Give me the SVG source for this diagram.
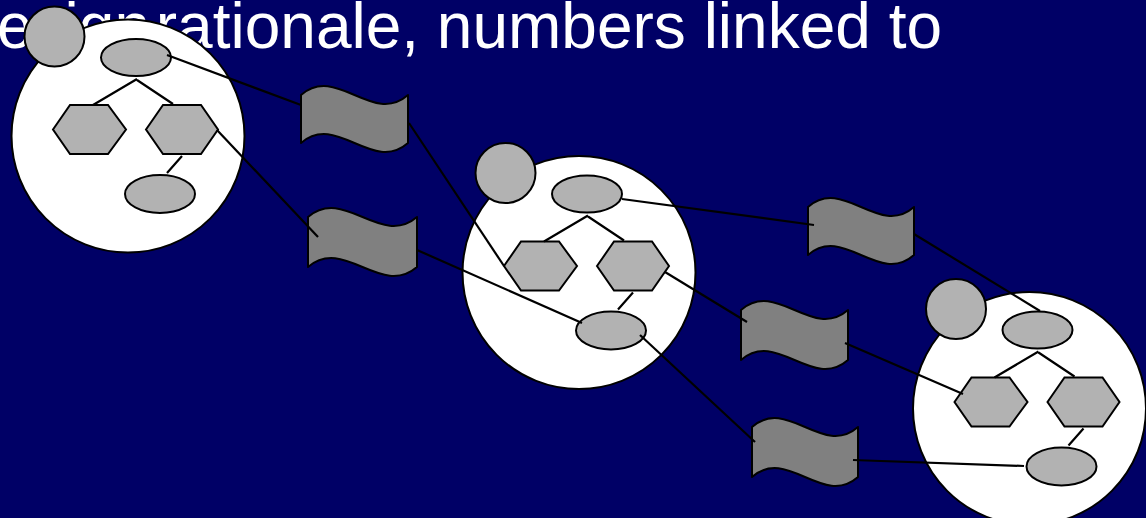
<svg xmlns="http://www.w3.org/2000/svg" width="1146" height="518" viewBox="0 0 1146 518">
<defs>
<style>
.bg{fill:#000066}
.title{font-family:"Liberation Sans",Arial,sans-serif;font-size:64px;fill:#ffffff}
.big{fill:#ffffff;stroke:#000;stroke-width:2}
.g{fill:#b2b2b2;stroke:#000;stroke-width:2}
.ban{fill:#808080;stroke:#000;stroke-width:2;stroke-linejoin:round}
.ln{stroke:#000;stroke-width:2.2;fill:none}
</style>
</defs>
<rect class="bg" x="0" y="0" width="1146" height="518"/>
<text class="title" x="-3" y="47.5">esign<tspan dx="-12"> rationale, numbers linked to</tspan></text>

<g id="cluster1">
<circle class="big" cx="128" cy="136" r="116.5"/>
<circle class="g" cx="54.5" cy="36.5" r="30"/>
<ellipse class="g" cx="136" cy="57.5" rx="35" ry="18.5"/>
<polygon class="g" points="53,129.5 70,105 108,105 126,129.5 108,154 70,154"/>
<polygon class="g" points="146,129.5 163,105 201,105 218,129.5 201,154 163,154"/>
<ellipse class="g" cx="160" cy="194" rx="35" ry="19"/>
<path class="ln" d="M137,79 L93,105 M137,80 L173,104 M182,156 L167,173"/>
</g>

<g id="cluster2" transform="translate(451,136.5)">
<circle class="big" cx="128" cy="136" r="116.5"/>
<circle class="g" cx="54.5" cy="36.5" r="30"/>
<ellipse class="g" cx="136" cy="57.5" rx="35" ry="18.5"/>
<polygon class="g" points="53,129.5 70,105 108,105 126,129.5 108,154 70,154"/>
<polygon class="g" points="146,129.5 163,105 201,105 218,129.5 201,154 163,154"/>
<ellipse class="g" cx="160" cy="194" rx="35" ry="19"/>
<path class="ln" d="M137,79 L93,105 M137,80 L173,104 M182,156 L167,173"/>
</g>

<g id="cluster3" transform="translate(901.5,272.5)">
<circle class="big" cx="128" cy="136" r="116.5"/>
<circle class="g" cx="54.5" cy="36.5" r="30"/>
<ellipse class="g" cx="136" cy="57.5" rx="35" ry="18.5"/>
<polygon class="g" points="53,129.5 70,105 108,105 126,129.5 108,154 70,154"/>
<polygon class="g" points="146,129.5 163,105 201,105 218,129.5 201,154 163,154"/>
<ellipse class="g" cx="160" cy="194" rx="35" ry="19"/>
<path class="ln" d="M137,79 L93,105 M137,80 L173,104 M182,156 L167,173"/>
</g>

<g id="banner1"><path class="ban" d="M301,95 C336.7,64 372.3,126 408,95 L408,143 C372.3,174 336.7,112 301,143 Z"/></g>
<g id="banner2"><path class="ban" d="M308,217 C344.3,186 380.7,248 417,217 L417,267 C380.7,298 344.3,236 308,267 Z"/></g>
<g id="banner3"><path class="ban" d="M808,207 C843.3,176 878.7,238 914,207 L914,255 C878.7,286 843.3,224 808,255 Z"/></g>
<g id="banner4"><path class="ban" d="M741,310 C776.7,279 812.3,341 848,310 L848,360 C812.3,391 776.7,329 741,360 Z"/></g>
<g id="banner5"><path class="ban" d="M752,427 C787.3,396 822.7,458 858,427 L858,477 C822.7,508 787.3,446 752,477 Z"/></g>

<g id="connectors" class="ln">
<line x1="167" y1="55" x2="301" y2="105"/>
<line x1="217" y1="130" x2="318" y2="237"/>
<line x1="409" y1="123" x2="504" y2="266"/>
<line x1="417" y1="250" x2="582" y2="323"/>
<line x1="622" y1="199" x2="814" y2="225"/>
<line x1="665" y1="272" x2="747" y2="322"/>
<line x1="640" y1="335" x2="755" y2="442"/>
<line x1="914" y1="234" x2="1040" y2="311"/>
<line x1="845" y1="343" x2="963" y2="394"/>
<line x1="853" y1="460" x2="1024" y2="466"/>
</g>
</svg>
